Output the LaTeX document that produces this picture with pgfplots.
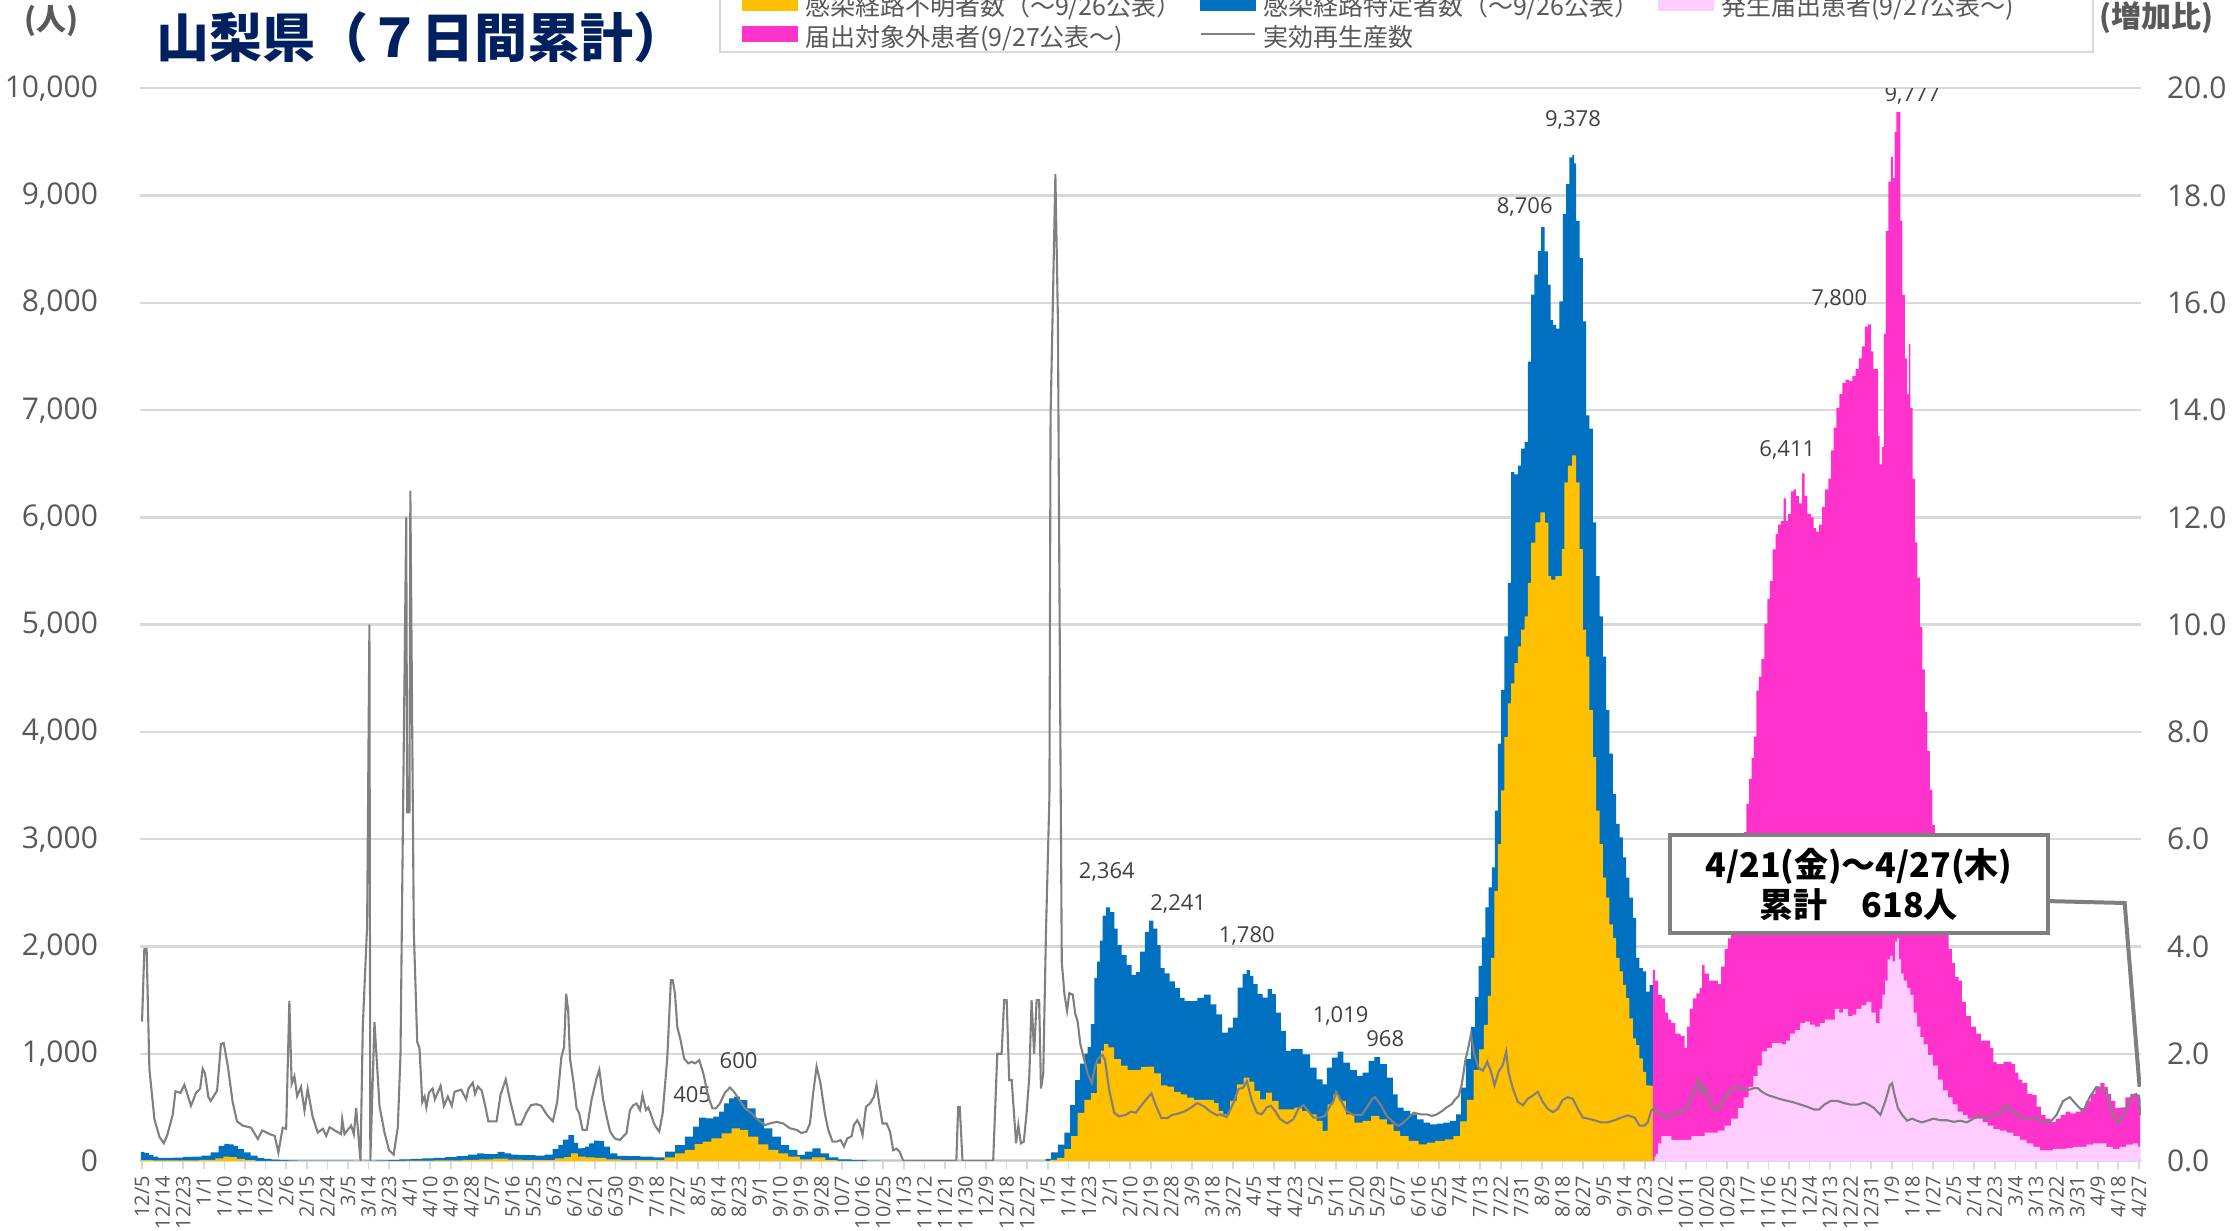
\documentclass[border=0pt]{standalone}
\usepackage{pgfplots}
\pgfplotsset{compat=1.18}
\usepackage{fontspec}
\setmainfont{Open Sans}
\newfontfamily\jp{Noto Sans CJK JP}
\definecolor{cYellow}{HTML}{FFC000}
\definecolor{cBlue}{HTML}{0070C0}
\definecolor{cMag}{HTML}{FF33CC}
\definecolor{cPink}{HTML}{FFCCFF}
\definecolor{cR}{HTML}{808080}
\definecolor{cGrid}{HTML}{D9D9D9}
\definecolor{cTick}{HTML}{595959}
\definecolor{cTitle}{HTML}{002060}
\definecolor{cLabel}{HTML}{404040}
\definecolor{cBox}{HTML}{7F7F7F}
\begin{document}
\begin{tikzpicture}
\begin{axis}[
  at={(70pt,35pt)}, anchor=south west, scale only axis,
  width=1000.5pt, height=536.35pt,
  xmin=-0.9, xmax=873.9, ymin=0, ymax=10000,
  axis x line*=bottom, axis y line*=left,
  x axis line style={-, draw=cGrid, line width=1.5pt},
  y axis line style={draw=none},
  ytick={0,1000,...,10000}, scaled y ticks=false,
  ytick style={draw=none},
  ymajorgrids=true, major grid style={draw=cGrid, line width=1.2pt},
  yticklabel style={font=\fontsize{15}{15}\selectfont, text=cTick, xshift=-13.5pt},
  /pgf/number format/1000 sep={,}, /pgf/number format/assume math mode=true,
  xtick={0,9,...,873},
  xticklabels={12/5,12/14,12/23,1/1,1/10,1/19,1/28,2/6,2/15,2/24,3/5,3/14,3/23,4/1,4/10,4/19,4/28,5/7,5/16,5/25,6/3,6/12,6/21,6/30,7/9,7/18,7/27,8/5,8/14,8/23,9/1,9/10,9/19,9/28,10/7,10/16,10/25,11/3,11/12,11/21,11/30,12/9,12/18,12/27,1/5,1/14,1/23,2/1,2/10,2/19,2/28,3/9,3/18,3/27,4/5,4/14,4/23,5/2,5/11,5/20,5/29,6/7,6/16,6/25,7/4,7/13,7/22,7/31,8/9,8/18,8/27,9/5,9/14,9/23,10/2,10/11,10/20,10/29,11/7,11/16,11/25,12/4,12/13,12/22,12/31,1/9,1/18,1/27,2/5,2/14,2/23,3/4,3/13,3/22,3/31,4/9,4/18,4/27},
  xticklabel style={rotate=90, anchor=east, font=\fontsize{10}{10}\selectfont, text=cTick},
  tick align=outside, major tick length=4pt,
  xtick style={draw=cGrid, line width=0.8pt},
  legend columns=3,
  legend cell align=left,
  legend style={at={(0.2894,1.0329)}, anchor=south west, draw=cGrid, line width=1pt, fill=white,
    inner xsep=11pt, inner ysep=1pt, font=\jp\fontsize{12.5}{12.5}\selectfont, text=cTick,
    /tikz/column sep=0pt,
    nodes={inner sep=0pt, text height=14pt, text depth=1.5pt, anchor=west}},
]
% blue: total (unknown + known route)
\addplot[fill=cBlue, draw=none, forget plot, const plot mark mid] coordinates {
(-0.5,85)(0,85)(2,75)(4,55)(6,40)(8,30)(12,30)(16,32)(20,38)(24,40)(28,50)(32,80)(35,140)(37,160)(39,155)(41,140)(43,110)(46,80)(49,50)(52,30)(55,20)(58,12)(62,8)(66,5)(70,3)(80,3)(90,3)(95,2)(100,3)(105,5)(110,8)(115,15)(120,20)(125,25)(130,30)(135,35)(140,45)(145,60)(148,70)(151,65)(154,65)(157,85)(160,70)(163,60)(166,55)(170,55)(174,50)(178,60)(181,110)(183,150)(185,200)(187.8,242)(190,170)(191.4,118)(193,120)(194.4,134)(196.5,165)(198.5,190)(200.9,186)(203.1,134)(206,71)(209.7,47)(214.8,45)(220.6,40)(226.4,34)(230.8,87)(235.2,149)(239.5,227)(242.4,320)(244.6,405)(248.3,398)(251.2,413)(253.4,460)(255.6,537)(257.7,584)(260,600)(262.8,568)(266.5,491)(270.1,398)(273.8,304)(277.4,227)(281.1,149)(284.7,103)(288.3,56)(291.3,87)(294.9,118)(298.5,71)(302.2,34)(306.6,16)(313.8,9)(319.7,3)(325,1)(330,0)(394,0)(396,20)(398.9,80)(401.8,153)(404.7,264)(406.9,521)(409,755)(411.2,908)(412.7,1000)(414.1,1061)(415.6,1276)(417,1706)(418.2,1859)(419.2,2055)(420.7,2288)(422,2364)(424.3,2319)(425.8,2166)(427.2,2012)(429.4,1920)(431.6,1828)(433.7,1736)(435.2,1760)(437.4,1951)(439.5,2135)(441,2241)(443.2,2166)(444.6,2012)(446,1798)(448.2,1748)(450.4,1675)(452.6,1613)(454.8,1521)(456.9,1491)(459.9,1491)(462.8,1521)(465.7,1552)(468.6,1460)(470.8,1368)(473.7,1196)(475.8,1244)(477.9,1337)(480.1,1617)(482.3,1742)(483.5,1780)(485.2,1726)(486.6,1649)(488.8,1555)(491,1524)(493.2,1602)(494.6,1555)(496.8,1384)(499,1213)(501.2,1026)(503.4,1042)(505.6,1042)(509.2,995)(512.1,871)(515,762)(517.2,715)(518.7,871)(521.6,964)(523.8,1019)(526.7,918)(529.6,846)(532.6,793)(534.7,824)(537.7,933)(539.8,968)(542.8,902)(545.7,778)(547.9,622)(550,498)(553,467)(555.9,435)(558.8,389)(561.7,358)(564.6,342)(567.5,348)(570.4,358)(573.4,373)(575.6,435)(577.7,684)(579.9,950)(582.1,1250)(583.6,1530)(585,1820)(586.5,2084)(588,2364)(589.4,2551)(590.9,2737)(592,3267)(593.5,3891)(594.9,4391)(596.4,4891)(597.8,5390)(599.3,6421)(600.7,6400)(602.2,6483)(603.7,6640)(605.1,6702)(606.6,7452)(608,8076)(609.5,8264)(611,8482)(612.4,8706)(613.9,8480)(615.3,8170)(616.3,7839)(617.5,7795)(618.9,7760)(620.4,8014)(621.9,8826)(623.3,9107)(624.8,9357)(625.8,9378)(626.3,9300)(627.7,8763)(629.2,8420)(630.6,7826)(632.1,6952)(633.5,6827)(635,5953)(636.5,5453)(637.9,5078)(639.4,4703)(640.8,4204)(642.3,3798)(643.7,3423)(645.2,3142)(646.7,3017)(648.1,2830)(649.6,2642)(651,2455)(652.5,2267)(653.9,1893)(655.4,1799)(656.9,1768)(658.3,1580)(659.8,1643)(660.5,1640)
} \closedcycle;
% yellow: unknown route
\addplot[fill=cYellow, draw=none, forget plot, const plot mark mid] coordinates {
(-0.5,8)(10,5)(20,5)(30,10)(34,25)(37,40)(40,35)(43,20)(47,8)(52,2)(60,0)(110,0)(120,3)(135,5)(145,10)(150,15)(157,22)(163,12)(170,8)(178,8)(183,25)(186,35)(189,71)(192,40)(196,34)(200,30)(206,16)(213,9)(226,9)(230.8,34)(235.2,71)(239.5,103)(243.6,158)(246.5,180)(251.2,211)(255.6,258)(259.9,304)(262.8,289)(267.2,227)(271.6,155)(276,103)(280.3,71)(284.7,40)(290.5,16)(295.5,34)(302,9)(306,0)(396,0)(398,10)(401.8,30)(404.7,110)(407.6,233)(410.5,448)(413.4,570)(416.3,632)(418.5,908)(419.9,1030)(421.4,1092)(423.5,1060)(426.5,950)(429.4,890)(432.3,847)(435.2,847)(438.1,877)(441,880)(444,816)(446.8,706)(449.7,693)(452.6,644)(455.5,620)(458.4,590)(461.3,570)(464.2,570)(467.1,570)(470,540)(471.3,467)(474.2,435)(477.2,560)(480.1,715)(483,778)(485.2,740)(487.4,653)(490.3,575)(492.5,638)(495.4,560)(498.3,482)(501.9,482)(505.6,498)(508.5,467)(512.1,435)(515,373)(517.2,280)(519.4,529)(522.3,622)(524.5,560)(528.2,435)(531.8,358)(535.5,373)(539.1,420)(542.8,389)(545.7,342)(548.6,280)(551.5,233)(555.9,187)(560.3,156)(563.2,171)(567.5,187)(571.9,202)(574.8,233)(577.7,370)(580.7,570)(583.6,850)(585.6,1040)(587.6,1268)(589.1,1540)(590.5,1893)(592,2517)(593.5,2954)(594.9,3454)(596.4,3954)(597.8,4266)(599.3,4453)(600.7,4641)(602.2,4797)(603.7,4953)(605.1,5078)(606.6,5390)(608,5765)(610.2,5953)(612.4,6046)(614.3,5950)(615.3,5453)(616.8,5420)(618.9,5453)(620.4,5453)(621.1,5703)(622.6,6327)(624.1,6483)(626.3,6577)(627.7,6327)(629.2,5703)(630.6,4953)(632.1,4703)(633.5,4204)(635,3766)(636.5,3267)(637.9,2954)(639.4,2642)(640.8,2455)(642.3,2205)(643.7,2080)(645.2,1893)(646.7,1768)(648.1,1643)(649.6,1518)(651,1330)(652.5,1143)(653.9,1080)(655.4,956)(656.9,831)(658.3,706)(660.5,700)
} \closedcycle;
% magenta: total (reported + not reported)
\addplot[fill=cMag, draw=none, forget plot, const plot mark mid] coordinates {
(660.5,1780)(661,1780)(662.1,1681)(663.5,1549)(665.4,1516)(666.4,1384)(667.9,1318)(669.3,1285)(671.5,1187)(673.7,1167)(675.1,1055)(675.9,1252)(677.3,1417)(678.8,1516)(680.2,1562)(681.7,1615)(682.4,1826)(683.9,1747)(686,1681)(688.2,1681)(689.7,1650)(691.1,1813)(692.6,1978)(694,2076)(695.5,2241)(696.9,2406)(698.4,2604)(699.8,2802)(700.8,3065)(702,3329)(703.2,3560)(704.2,3757)(705.2,3955)(706.3,4384)(707.4,4516)(708.5,4680)(710,5010)(711.1,5241)(712.2,5405)(713.6,5702)(714.8,5847)(715.8,5933)(717.2,5966)(718.2,6177)(719.1,5966)(720.1,6032)(721.6,6243)(722.6,6262)(723.8,6197)(725.2,6131)(726.4,6411)(727.4,6200)(728.8,6032)(730.3,6000)(731.3,5900)(732.5,5867)(733.9,5933)(735.1,6098)(736.5,6262)(738,6361)(739,6625)(740,6836)(741.5,7020)(742.6,7152)(744.1,7251)(745.5,7284)(747,7271)(748.4,7317)(749.9,7383)(751.3,7482)(752.5,7594)(753.9,7778)(755.4,7800)(756.4,7548)(757.4,7383)(758.6,7383)(759.3,6757)(760,6493)(761.2,6658)(761.9,7713)(762.9,8668)(764.1,9130)(765.1,9361)(765.9,9163)(766.6,9591)(767.3,9777)(768.5,9777)(769,8767)(770.2,8075)(771.2,7482)(772.1,7152)(772.8,7614)(773.5,7020)(774.6,6361)(775.7,5768)(776.7,5438)(777.8,4977)(778.9,4582)(780,4186)(781.1,3823)(782.1,3461)(783.3,3131)(784.4,2933)(785.4,2670)(786.9,2340)(787.9,2241)(789.1,2142)(790.5,1978)(792,1846)(793.4,1714)(794.9,1681)(796.3,1483)(798.5,1351)(800.7,1252)(802.9,1187)(805,1121)(807.2,1121)(808.7,1055)(810.1,923)(811.6,903)(813.1,903)(814.5,923)(816.7,923)(818.1,903)(819.6,824)(821,758)(823.2,725)(825.4,626)(827.5,613)(829,508)(831.2,428)(833.3,396)(835.5,363)(837.7,396)(839.9,428)(842,461)(844.2,445)(846.4,461)(848.6,494)(850.8,560)(852.9,626)(855.1,692)(857.3,725)(858.7,692)(860.2,626)(861.6,560)(863.8,494)(866,500)(868.2,593)(870.4,626)(872.5,613)(873.5,618)
} \closedcycle;
% light pink: reported patients
\addplot[fill=cPink, draw=none, forget plot, const plot mark mid] coordinates {
(660.5,0)(661,0)(661.5,40)(662.1,66)(663.5,165)(665,231)(667.2,231)(670.1,198)(673,198)(675.9,198)(678.8,231)(681.7,231)(684.6,264)(687.5,264)(690.4,283)(693.3,330)(696.2,396)(699.1,494)(701.3,593)(703.4,692)(705.6,791)(707.1,890)(709.3,1022)(711.4,1055)(713.6,1101)(715.8,1101)(718,1088)(719.4,1121)(721.6,1187)(723.8,1220)(725.9,1285)(728.1,1299)(730.3,1272)(732.5,1252)(734.6,1285)(736.8,1318)(739,1318)(741.2,1417)(742.6,1384)(744.8,1417)(747,1351)(748.4,1365)(750.6,1417)(752.8,1450)(754.9,1483)(757.1,1384)(758.9,1285)(760.3,1417)(761.5,1549)(762.6,1681)(763.7,1879)(764.7,1912)(765.9,1860)(767,2044)(767.6,2076)(768.5,1879)(769.5,1747)(770.9,1681)(772.4,1615)(773.8,1549)(775.3,1384)(776.7,1252)(778.2,1154)(779.6,1088)(781.8,989)(784,890)(786.2,758)(788.4,659)(790.5,593)(792.7,527)(794.9,461)(797.1,428)(799.2,396)(801.4,396)(803.6,396)(805.8,363)(807.9,330)(810.8,297)(813.7,283)(816.7,264)(819.6,231)(822.5,198)(825.4,165)(828.3,132)(831.2,99)(834.1,99)(837,112)(839.9,112)(842.8,119)(845.7,132)(848.6,132)(851.5,152)(854.4,165)(857.3,165)(860.2,132)(863.1,112)(866,132)(868.9,152)(871.8,165)(873.5,132)
} \closedcycle;
% legend entries
\addlegendimage{legend image code/.code={\fill[cYellow] (0pt,-3.5pt) rectangle (27pt,3.5pt);}}
\addlegendentry{\hspace*{3.5pt}\makebox[197.5pt][l]{感染経路不明者数（～9/26公表）}}
\addlegendimage{legend image code/.code={\fill[cBlue] (0pt,-3.5pt) rectangle (27pt,3.5pt);}}
\addlegendentry{\hspace*{3.5pt}\makebox[197.5pt][l]{感染経路特定者数（～9/26公表）}}
\addlegendimage{legend image code/.code={\fill[cPink] (0pt,-3.5pt) rectangle (27pt,3.5pt);}}
\addlegendentry{\hspace*{3.5pt}\makebox[175pt][l]{発生届出患者(9/27公表～)}}
\addlegendimage{legend image code/.code={\fill[cMag] (0pt,-3.5pt) rectangle (27pt,3.5pt);}}
\addlegendentry{\hspace*{3.5pt}\makebox[197.5pt][l]{届出対象外患者(9/27公表～)}}
\addlegendimage{legend image code/.code={\draw[cR, line width=1pt] (0pt,0pt) -- (27pt,0pt);}}
\addlegendentry{\hspace*{3.5pt}\makebox[197.5pt][l]{実効再生産数}}
% data labels
\begin{scope}[every node/.style={font=\fontsize{11}{11}\selectfont, text=cLabel}]
\node at (axis cs:240.5,620) {405};
\node at (axis cs:260.8,935) {600};
\node at (axis cs:421.8,2695) {2,364};
\node at (axis cs:453,2400) {2,241};
\node at (axis cs:483,2100) {1,780};
\node at (axis cs:524,1351) {1,019};
\node at (axis cs:543.5,1137) {968};
\node at (axis cs:604.5,8895) {8,706};
\node at (axis cs:625.6,9702) {9,378};
\node at (axis cs:719.3,6626) {6,411};
\node at (axis cs:742,8040) {7,800};
\node at (axis cs:774,9940) {9,777};
\end{scope}
% callout
\draw[cBox, line width=2pt] (axis cs:833.2,2423) -- (axis cs:866.8,2405) -- (axis cs:873.3,692);
\draw[cBox, line width=2pt, fill=white] (axis cs:668,2125) rectangle (axis cs:833.2,3038);
\node[align=center, font=\jp\bfseries\fontsize{17}{20}\selectfont, text=black] at (axis cs:750.6,2581) {4/21(金)～4/27(木)\\累計　618人};
\end{axis}
\begin{axis}[
  at={(70pt,35pt)}, anchor=south west, scale only axis,
  width=1000.5pt, height=536.35pt,
  xmin=-0.9, xmax=873.9, ymin=0, ymax=20,
  axis x line=none, axis y line*=right,
  y axis line style={draw=none},
  ytick={0,2,...,20}, ytick style={draw=none},
  yticklabel style={font=\fontsize{15}{15}\selectfont, text=cTick, xshift=9.5pt},
  /pgf/number format/fixed, /pgf/number format/fixed zerofill,
  /pgf/number format/precision=1, /pgf/number format/assume math mode=true,
]
\addplot[cR, line width=1.05pt] coordinates {
(0,2.6)(1,3.95)(2,3.95)(3.2,1.72)(5.4,0.78)(7.6,0.45)(9.5,0.33)(11,0.48)(13.4,0.86)(14.6,1.30)(16.8,1.27)(18.5,1.42)(21.4,1.03)(23.6,1.27)(25.4,1.35)(26.5,1.72)(27.5,1.64)(29,1.19)(30,1.12)(32.8,1.31)(34.5,2.18)(35.7,2.2)(37.5,1.77)(39.6,1.1)(41.5,0.74)(44,0.66)(47.7,0.62)(50.6,0.41)(52.5,0.57)(56.4,0.49)(58,0.47)(59.6,0.16)(61.5,0.62)(63,0.6)(64.4,2.98)(65.4,1.44)(66.6,1.58)(67.8,1.21)(69.5,1.38)(71,0.94)(72.4,1.34)(74.6,0.82)(76.8,0.53)(79,0.6)(80.5,0.47)(82,0.63)(85,0.55)(87,0.5)(87.5,0.78)(88.5,0.5)(91.4,0.66)(92.6,0.5)(93.6,0.99)(94.3,0.62)(95.5,0)(96.5,2.5)(98.4,4.39)(99.4,10.0)(99.8,0)(101.6,2.59)(102.3,2.1)(103.8,1.03)(106,0.53)(108,0.2)(110,0.12)(111.8,0.62)(113,2.0)(114,6.1)(115.5,12.0)(115.9,6.5)(116.9,6.5)(117.3,12.5)(118.8,4.3)(120.3,2.22)(121.3,2.1)(122.5,1.1)(123.5,1.2)(124.3,1.0)(125.4,1.27)(127,1.35)(128,1.15)(130.5,1.4)(132,1.03)(133.7,1.2)(135.4,1.03)(136.6,1.29)(139.5,1.33)(141.7,1.15)(142.7,1.35)(144.6,1.46)(145.6,1.25)(146.8,1.39)(148.5,1.31)(150,1.03)(151.4,0.74)(153.3,0.74)(155,0.74)(156.7,1.23)(159,1.52)(161,1.11)(163.5,0.68)(165.7,0.68)(168,0.9)(170,1.04)(172.3,1.06)(174.5,1.03)(177,0.86)(179.6,0.74)(181.5,1.1)(183.3,1.93)(184.5,2.13)(185.4,3.12)(186.3,2.81)(187.1,1.91)(188.5,1.51)(190,0.98)(191.1,0.89)(192.6,0.58)(194.4,0.58)(196.5,1.14)(198.7,1.54)(199.9,1.70)(201.6,1.14)(203.1,0.83)(204.6,0.55)(206.7,0.42)(208.9,0.39)(210.4,0.46)(211.8,0.52)(213.3,0.95)(214.8,1.04)(216.2,1.07)(217.7,0.95)(218.8,1.23)(220.3,0.95)(221.3,1.0)(222.3,0.89)(223.8,0.70)(225,0.61)(226.1,0.55)(227.6,0.89)(229.6,1.91)(231.2,3.37)(232,3.37)(233,3.12)(234,2.50)(235.4,2.26)(237,1.91)(238.8,1.82)(240.3,1.85)(241.7,1.82)(243.6,1.88)(245.4,1.63)(247.5,1.20)(249.4,0.98)(250.9,0.98)(252.6,1.07)(254.8,1.27)(257,1.37)(258.8,1.29)(260.7,1.17)(263.6,0.98)(266.5,0.89)(269.4,0.76)(272.3,0.67)(274.5,0.70)(277.4,0.73)(280.3,0.70)(283.2,0.61)(286.2,0.58)(288.3,0.52)(290.5,0.55)(292,0.70)(293.4,1.26)(294.9,1.76)(296.6,1.45)(298.5,0.89)(300,0.58)(301.9,0.36)(303.6,0.36)(305.4,0.39)(306.9,0.27)(308.3,0.42)(310.2,0.46)(311.2,0.67)(312.7,0.76)(313.8,0.67)(315,0.48)(316.5,1.01)(318.2,1.07)(320,1.20)(321.1,1.42)(322.3,1.07)(323.7,0.70)(325.5,0.70)(327,0.55)(328.4,0.20)(329.9,0.23)(331.3,0.17)(332.8,0)(356,0)(356.8,1.01)(357.5,1.01)(358.7,0)(372.1,0)(373.9,2.0)(375.8,2.0)(376.9,3.0)(378,3.0)(379.1,1.51)(380.2,1.51)(382.1,0.33)(383.1,0.67)(384.2,0.33)(385.5,0.36)(386.7,0.89)(387.9,1.57)(388.9,3.0)(390,2.0)(391.1,3.0)(392.2,3.0)(393,1.35)(394,1.63)(395.2,4.3)(396.7,6.8)(397.2,13.9)(398.2,16.0)(399.3,18.4)(400.4,15.7)(401.1,10.5)(402.1,3.7)(403.3,3.1)(404.4,2.8)(405.4,3.13)(406.9,3.1)(408,2.74)(409,2.61)(410.2,2.18)(412,1.88)(413.4,1.63)(415.2,1.45)(416.6,1.75)(417.8,1.90)(419.9,1.98)(421,1.88)(422.8,1.33)(425,0.9)(427.2,0.83)(430.1,0.86)(432.3,0.92)(434.5,0.9)(436.6,1.02)(438.8,1.14)(441.3,1.26)(443.2,1.04)(445.6,0.8)(448.2,0.8)(450.4,0.86)(452.6,0.88)(455.5,0.92)(458.4,0.99)(461.3,1.08)(464.2,1.02)(467.1,0.92)(470,0.85)(471.3,0.87)(474.2,0.82)(477.2,1.09)(479.3,1.34)(481.5,1.37)(483,1.49)(485.2,1.12)(487.4,0.9)(489.5,0.87)(491.7,1.0)(493.5,1.03)(495.4,0.93)(497.6,0.78)(500.5,0.70)(503.4,0.78)(505.6,0.98)(507.8,1.04)(509.9,0.93)(512.1,0.81)(515,0.81)(517.2,0.84)(519.4,1.03)(520.9,1.12)(522,1.29)(523.8,1.15)(526.7,0.93)(529.6,0.86)(533.3,0.86)(535.5,1.0)(537.7,1.15)(539.1,1.19)(541.3,1.06)(544.2,0.84)(547.1,0.72)(549.3,0.65)(551.5,0.72)(553.7,0.81)(555.9,0.9)(558.8,0.87)(561.7,0.87)(563.9,0.84)(566.1,0.87)(568.3,0.93)(570.4,1.0)(572.6,1.06)(574.1,1.15)(575.6,1.21)(577,1.43)(578.5,1.87)(579.5,2.05)(581,2.36)(582.4,1.99)(584.3,1.74)(586.2,1.68)(588.1,1.85)(589.8,1.66)(591.3,1.41)(593,1.66)(594.9,1.79)(596.4,2.04)(597.4,1.66)(599.3,1.35)(601.5,1.10)(603.7,1.04)(605.8,1.16)(608,1.22)(610.2,1.29)(612.4,1.10)(614.6,0.97)(616.8,0.91)(618.9,0.97)(621.1,1.14)(623.3,1.19)(625.5,1.16)(627.7,0.97)(629.9,0.81)(632.1,0.79)(635,0.76)(637.9,0.72)(640.8,0.72)(643.7,0.76)(646.7,0.81)(649.6,0.85)(652.5,0.81)(654.7,0.66)(656.9,0.66)(658.3,0.72)(659.8,0.94)(661.1,0.99)(662.8,0.92)(664.3,0.86)(666.4,0.79)(668.6,0.86)(671.5,0.92)(673.7,0.92)(675.1,0.99)(676.6,1.12)(678,1.25)(679.5,1.38)(680.5,1.52)(681.7,1.25)(683.1,1.38)(684.6,1.19)(686.8,0.99)(688.2,0.95)(690.4,1.05)(692.6,1.23)(694.7,1.32)(696.9,1.38)(699.1,1.35)(702,1.32)(704.9,1.36)(706.3,1.36)(708.5,1.28)(710.7,1.23)(713.6,1.19)(716.5,1.15)(719.4,1.12)(722.3,1.09)(725.2,1.05)(728.1,1.01)(731,0.96)(733.2,0.96)(735.4,1.05)(738.3,1.12)(741.2,1.12)(744.1,1.08)(747,1.05)(749.9,1.05)(752.8,1.09)(754.9,1.05)(757.1,0.99)(760,0.86)(762.2,1.12)(764.1,1.41)(765.1,1.45)(766.1,1.25)(767.6,0.99)(769.5,0.86)(771.7,0.75)(773.8,0.79)(776,0.75)(778.2,0.72)(780.4,0.75)(783.3,0.79)(786.2,0.76)(789.1,0.76)(792,0.73)(794.9,0.75)(797.8,0.72)(800.7,0.79)(803.6,0.86)(806.5,0.79)(809.4,0.86)(812.3,0.88)(815.2,1.05)(817.4,0.92)(819.6,0.86)(822.5,0.79)(825.4,0.79)(828.3,0.79)(831.2,0.72)(834.1,0.72)(837,0.86)(839.9,1.12)(842.8,1.19)(845.7,1.05)(848.6,0.92)(851.5,1.19)(854.4,1.38)(857.3,1.35)(859.5,1.19)(861.6,0.86)(863.8,0.72)(865.7,0.79)(867.5,0.99)(869.7,1.19)(871.8,1.25)(873.2,1.19)(873.5,0.85)
};
\end{axis}
\node[font=\jp\bfseries\fontsize{26.5}{26.5}\selectfont, text=cTitle] at (210.7pt,597pt) {山梨県（７日間累計）};
\node[font=\jp\bfseries\fontsize{15}{15}\selectfont, text=cTick] at (26pt,605pt) {(人)};
\node[font=\jp\bfseries\fontsize{15}{15}\selectfont, text=cTick] at (1078pt,606.5pt) {(増加比)};
\pgfresetboundingbox
\useasboundingbox (0,0) rectangle (1117pt,615.5pt);
\end{tikzpicture}
\end{document}
